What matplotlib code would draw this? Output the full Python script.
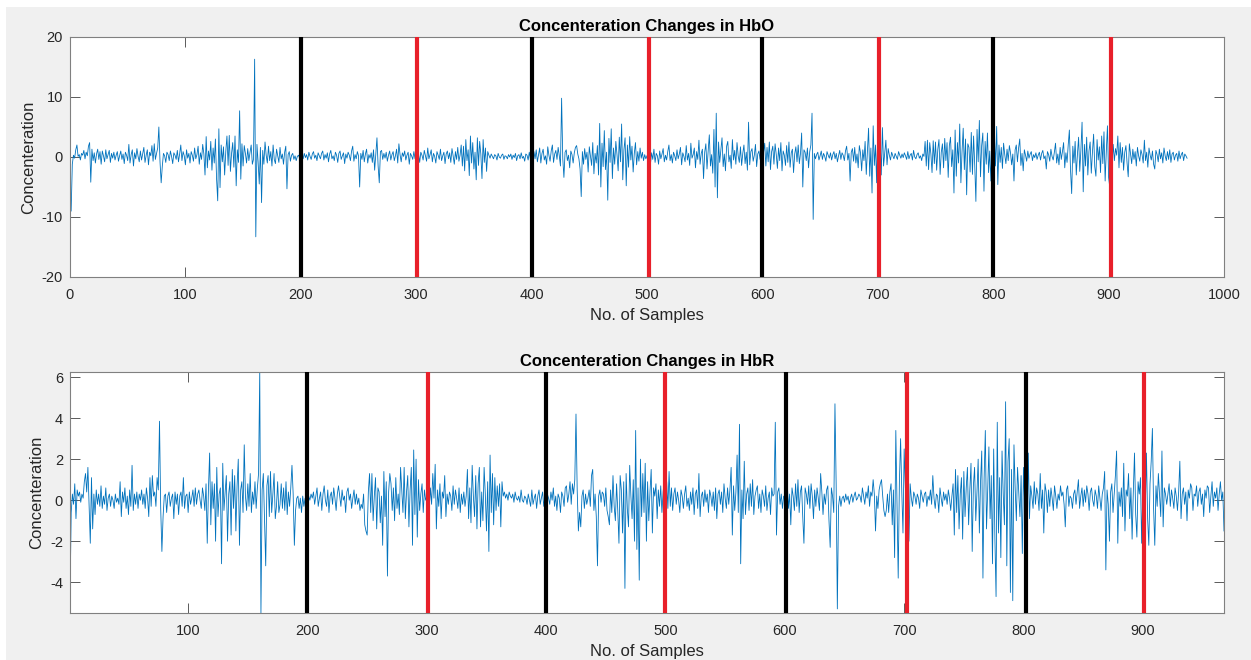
import matplotlib.pyplot as plt
from matplotlib.patches import Rectangle

plt.rcParams['font.family'] = ['Liberation Sans', 'DejaVu Sans']
plt.rcParams['axes.unicode_minus'] = False

# HbO concentration change, one value per sample
hbo = [
    -9.0, -1.2, 0.3, -0.2, 1.2, 2.0, 0.1, 0.4, -0.5, 0.6, 0.3, 1.1, -0.3, 0.8, 0.2, 1.8, 2.4, -4.2, 1.3, -0.6,
    0.7, -1.0, 0.5, 1.3, -0.4, 0.9, -1.2, 1.0, 0.2, -0.8, 1.2, -0.3, 0.4, 1.1, -0.9, 0.6, -0.2, 0.8, -0.5, 0.3,
    0.9, -0.7, 0.2, 1.0, -0.4, 0.5, -1.1, 0.8, 0.3, -0.6, 2.1, -1.0, 0.4, 1.2, -1.5, 0.7, -0.3, 1.4, 0.1, -0.8,
    1.0, -0.5, 0.6, 1.6, -0.9, 0.3, 1.2, -1.3, 0.8, 0.2, 1.9, -0.7, 2.2, -0.4, 0.6, 1.5, 5.0, -0.8, -4.3, -1.5,
    0.6, 0.2, -0.9, 0.8, 0.4, -0.6, 1.0, 0.1, -1.1, 0.7, 0.3, -0.4, 1.1, -0.8, 0.5, 2.0, -0.6, 0.9, 0.2, -1.3,
    1.2, -0.2, 0.6, -1.0, 0.9, 0.3, -0.7, 1.5, -0.3, 0.4, 1.8, -1.2, 0.7, -0.4, 2.1, 0.5, -3.0, 3.4, -1.8, 1.0,
    -0.5, 2.6, -2.2, 1.5, -1.0, 3.0, -3.6, -7.3, 4.7, -5.1, 2.0, -0.8, 1.7, -3.0, 0.9, 3.5, -1.4, 3.6, -2.4, 0.6,
    2.4, -1.7, 3.5, -4.8, 1.2, -0.9, 7.7, -3.7, 2.2, -1.5, 1.9, 0.6, -1.0, 1.4, -0.6, 0.8, 2.0, -1.2, -0.4, 16.3,
    -13.3, 2.1, -0.8, -4.5, 1.6, -7.6, 1.1, -1.2, 2.5, 0.3, -1.0, 1.8, -0.6, 0.9, -1.5, 2.0, -0.4, -1.1, 1.3, 0.2,
    -0.9, 1.6, -0.3, 0.5, -1.2, 0.8, 1.8, -5.3, 0.4, 0.9, -0.7, 0.3, 0.6, -0.4, 0.2, -0.6, 0.1, 0.3, -0.2, 0.4,
    0.2, -0.3, 0.6, -0.1, 0.4, -0.5, 0.8, 0.1, -0.4, 0.5, 0.9, -0.2, 0.3, -0.6, 0.7, 0.2, -0.3, 0.6, 1.0, -0.5,
    0.4, -0.2, 0.7, -0.8, 0.5, 1.1, -0.3, 0.2, -0.6, 0.8, 0.3, -0.9, 0.6, 1.0, -0.4, 0.2, 0.7, -1.1, 0.5, -0.2,
    0.8, 0.3, -0.6, 1.0, 1.8, -0.7, 0.4, -0.3, 0.9, 0.2, -5.0, 0.6, -0.4, 1.1, -0.8, 0.5, 1.3, -1.0, 0.4, -0.2,
    0.7, -0.9, 1.2, -2.2, 0.5, 3.2, -1.5, -4.3, 0.9, 1.1, -0.4, 0.6, -0.2, 0.8, -0.7, 0.3, 1.0, -0.5, 0.4, 0.9,
    -0.6, 0.2, 1.3, -1.0, 2.2, 0.4, -0.8, 0.7, 0.1, 1.0, -0.5, 0.3, 0.8, -1.2, 0.6, 0.2, -0.4, 0.9, -0.3, 0.5,
    -0.2, 0.6, -0.9, 0.8, 0.3, -0.5, 1.1, 0.2, -0.7, 1.5, -0.3, 0.4, 1.2, -0.8, 0.6, 0.1, -1.0, 0.9, 0.3, -0.4,
    1.3, -0.6, 0.2, 0.8, -1.1, 0.5, 1.0, -0.3, 0.7, -0.9, 1.4, 0.2, -1.2, 0.9, -0.4, 1.6, -0.7, 0.3, 2.0, -1.5,
    1.8, -2.3, 2.9, -0.6, 1.2, -3.1, 3.5, -1.0, 2.4, -2.0, 0.8, -3.8, 3.2, -1.4, 2.6, 0.5, -3.6, 2.9, -0.9, 1.5,
    -2.4, 0.9, 0.3, -0.2, 0.5, 0.1, -0.3, 0.4, 0.2, -0.5, 0.6, 0.0, -0.2, 0.3, 0.5, -0.4, 0.2, 0.1, -0.3, 0.4,
    0.0, 0.5, -0.4, 0.3, -0.1, 0.6, -0.6, 0.2, 0.4, -0.3, 0.7, -0.2, 0.1, -0.7, 0.5, 0.3, -0.5, 0.8, -0.4, 0.2,
    -0.6, 0.9, -0.3, 1.2, -0.8, 0.4, 1.5, -1.0, 0.6, 1.3, -0.5, 0.2, -1.2, 1.7, 0.3, -0.7, 1.0, 2.0, -0.9, 0.5,
    1.1, -0.4, 1.6, 0.2, -1.5, 9.8, -0.2, -3.4, 0.8, 1.2, -0.6, 0.3, -1.8, 1.0, 0.4, -1.0, 0.7, 1.6, 1.9, 0.5,
    -0.3, -2.0, -6.6, 0.9, -1.2, 1.4, -0.4, 0.8, -2.5, 1.7, 0.2, -1.4, 2.4, -2.8, 0.6, -1.0, 1.9, -3.0, 5.6, -5.0,
    2.3, -1.6, 4.4, -2.1, 0.8, -7.2, 3.1, -0.9, 4.7, -3.6, 1.5, -1.2, 2.6, 0.4, -2.3, 3.3, -0.8, 5.5, -3.8, 1.2,
    3.2, -4.8, 2.0, -1.7, 3.4, -0.5, 1.8, -2.5, 0.6, 2.4, -1.3, 0.9, -0.7, 1.5, -0.2, 0.8, -0.6, 0.4, -0.3, 0.2,
    0.5, 2.3, -1.1, 0.7, -0.4, 1.3, -0.9, 0.6, 0.2, -1.2, 1.0, -0.3, 0.5, 1.4, -0.8, 0.3, -0.5, 0.9, 2.0, -0.6,
    0.4, -1.0, 0.8, 0.2, -0.6, 1.2, -0.3, 0.5, 1.6, -1.3, 0.7, 0.1, -0.8, 1.9, -0.5, 0.6, -1.4, 2.3, -0.2, 0.4,
    1.5, -1.8, 0.9, -0.4, 2.8, -1.2, 0.6, 1.3, -3.6, 0.8, 2.2, -2.0, 1.0, 3.7, -1.5, 0.4, -2.7, 4.6, -5.0, 7.3,
    -6.8, 2.5, -0.9, 1.2, 3.2, -1.6, 0.5, -2.3, 1.8, 2.6, -0.8, 0.3, -1.9, 2.9, -0.5, 1.1, -1.2, 2.4, 0.2, -0.9,
    1.7, -1.4, 0.6, 2.0, -1.1, 0.8, -2.2, 5.8, -1.3, 0.9, 1.4, -0.7, 0.3, 2.1, -1.6, 0.5, 1.0, -0.4, 2.6, -0.3,
    0.8, 2.3, -1.5, 1.6, -0.8, 2.5, -2.1, 0.9, 1.8, -1.2, 2.2, 0.4, -1.9, 1.5, -0.6, 2.4, -2.3, 1.0, 0.3, -1.4,
    1.9, -0.9, 2.5, -1.7, 0.7, 1.3, -2.6, 0.5, 1.7, -0.8, 2.0, -1.1, 0.6, 4.0, -5.0, 1.2, 0.8, -0.6, 1.5, -1.8,
    0.9, 2.0, 7.3, -10.4, 0.6, -0.3, 0.4, 0.8, -0.5, 0.2, 1.0, -0.4, 0.6, 0.1, -0.7, 0.9, 0.3, -0.2, 0.7, -0.5,
    0.4, 0.9, -0.3, 0.6, -0.8, 0.2, 1.1, -0.4, 0.7, 0.3, -0.6, 1.0, 1.8, -0.5, 0.6, -4.0, 0.8, 1.4, -0.7, 1.6,
    -1.0, 0.5, -1.8, 1.9, 0.7, -2.3, 1.2, -0.6, 2.6, -2.9, 0.9, 4.8, -3.2, 1.5, -6.0, 5.2, -1.4, 2.0, -4.3, 5.2,
    -2.2, 3.4, -3.0, 4.9, -1.5, 0.7, 2.8, -1.3, 1.4, 0.3, -0.5, 0.8, 0.2, -0.3, 0.6, 0.1, -0.4, 0.9, 0.3, -0.2,
    0.5, -0.1, 0.7, 0.2, -0.4, 0.9, -0.3, 0.3, 0.6, -0.5, 1.1, 0.0, -0.3, 0.4, 0.7, -0.2, 0.2, -0.6, 0.5, 0.1,
    2.6, -1.5, 2.8, -2.1, 2.4, 0.5, -2.6, 2.7, -1.1, 2.5, -2.2, 1.3, 2.9, -2.9, 0.8, 2.2, -1.8, 3.1, -0.6, 2.4,
    -3.4, 1.9, 3.3, -1.6, 1.2, -6.0, 4.5, -3.2, 2.4, -1.0, 5.5, -4.3, 0.9, 4.8, -2.1, 3.0, -6.3, 2.2, 1.6, -2.5,
    4.1, -2.9, 3.5, -1.4, -7.4, 4.6, -0.8, 6.1, -3.3, 1.9, 4.0, -5.7, 2.6, -1.2, 4.0, -2.6, 1.0, -4.0, 2.3, -3.0,
    3.6, -1.5, 5.1, -4.6, 2.0, -0.9, 1.6, -1.9, 2.3, 0.4, -1.1, 1.3, -0.6, 1.9, 0.7, -1.3, 0.5, -4.0, 1.2, 2.0,
    -0.8, 1.5, 3.0, -1.4, 0.6, -2.3, 1.2, 0.3, -0.7, 1.0, -0.2, 0.5, 0.9, -0.6, 0.4, -0.1, 0.7, -0.4, 0.3, 0.8,
    -0.5, 0.6, 1.1, -0.3, 0.2, -2.0, 0.9, 0.4, -0.7, 1.3, 0.1, -0.5, 0.8, 2.3, -1.0, 0.5, -1.3, 1.6, -0.4, 0.9,
    2.4, -1.8, 0.7, -0.9, 2.0, 4.5, -2.2, -6.1, 1.8, -1.0, 2.6, -3.0, 0.5, 3.3, -2.4, 1.2, 5.8, -5.8, 2.1, -1.5,
    3.3, -3.0, 1.0, 2.5, -2.7, 0.8, 3.8, -1.6, -3.2, 2.9, -0.5, 1.7, -2.6, 3.5, -1.1, 4.2, -4.0, 0.9, 5.2, -3.4,
    -5.0, 4.6, -1.2, 2.1, -0.6, 1.4, 0.3, 3.5, -1.8, 2.4, -0.9, 1.6, -2.2, 0.8, 1.9, -1.0, -3.3, 2.2, 0.5, -1.1,
    1.3, -0.4, 0.9, -1.5, 1.6, 0.2, -0.7, 1.2, 0.4, -1.0, 2.8, -0.6, 0.8, -1.7, 1.5, 0.3, -0.5, 1.0, -1.2, -2.0,
    1.1, 0.4, -0.8, 1.3, -0.3, 0.7, -1.0, 1.5, 0.2, -0.6, 0.9, -0.4, 1.2, -0.9, 0.5, 0.8, -0.5, 0.3, 0.6, -0.7,
    1.0, -0.3, 0.4, 0.8, -0.6, 0.5, 0.2, -0.2,
]

# HbR concentration change, one value per sample
hbr = [
    -4.8, -0.6, 0.3, -0.2, 0.8, -0.9, 0.5, 0.2, 0.4, -0.1, 0.3, 0.1, 0.9, 1.3, 0.4, 1.6, -0.3, -2.1, 1.1, -1.4,
    0.3, -0.7, 0.5, -0.2, 0.3, -0.3, 0.7, -0.4, 0.2, -0.2, 0.6, -0.5, 0.1, 0.3, -0.3, 0.2, 0.0, -0.4, 0.3, -0.1,
    0.1, -0.2, 0.9, -0.8, 0.4, -0.1, 0.6, -0.4, 0.2, -0.7, 0.5, -0.3, 1.7, -0.5, 0.3, -0.2, 0.4, -0.4, 0.3, 0.0,
    0.5, -0.2, 0.3, -0.4, 0.6, 0.1, -0.8, 1.1, -0.3, 1.2, 0.2, 0.4, -0.3, 1.1, 0.5, 3.85, -0.4, -2.5, -0.8, 0.2,
    0.3, -0.6, 0.2, 0.4, -0.3, 0.1, 0.3, -0.9, 0.4, -0.2, 0.3, -0.7, 0.2, 0.4, -0.3, 1.1, -0.4, 0.2, 0.3, -0.6,
    0.4, -0.2, 0.1, 0.5, -0.3, 0.6, -0.2, 0.3, 0.5, 0.0, -0.4, 0.6, 0.2, -0.5, 0.8, -2.1, 0.5, 2.3, -1.2, 0.9,
    -0.4, 0.8, -2.0, 1.6, -0.8, 0.3, 0.6, -3.1, 1.8, -0.5, 0.4, 1.2, -2.0, 0.3, 0.9, -1.7, 1.5, -0.4, 1.2, -1.5,
    0.7, 2.0, -2.2, 0.5, 0.9, -0.6, 2.7, 0.2, -0.5, 0.8, -0.3, 1.3, -0.6, 0.4, -0.2, 0.9, -0.4, 0.6, 1.3, 6.25,
    -5.5, 0.5, 1.3, -0.9, -3.2, 0.7, 1.2, -0.8, 1.4, -0.6, 0.3, 1.3, -0.9, -0.3, 0.9, -0.6, -0.2, 0.8, -0.4, 0.6,
    -0.5, 0.9, -0.7, 0.4, -0.3, 0.6, 1.7, 0.3, -2.2, -0.5, 0.1, 0.2, -0.4, 0.1, -0.6, 0.2, -0.3, 0.1, -0.5, 0.0,
    0.2, 0.0, 0.3, 0.1, 0.4, -0.2, 0.2, 0.6, -0.3, 0.1, 0.4, -0.5, 0.3, 0.7, 0.0, -0.3, 0.5, -0.6, 0.2, 0.4,
    -0.2, 0.6, 0.1, -0.5, 0.3, 0.7, 0.2, -0.3, 0.5, 0.0, 0.2, -0.6, 0.4, 0.6, 0.0, 0.3, -0.4, 0.1, 0.5, -0.2,
    0.3, -0.2, 0.1, -0.5, -0.2, -0.4, 0.3, -1.2, -1.5, -1.7, 0.4, 1.3, -0.6, 1.3, -1.0, 0.2, 1.1, -1.4, 0.6, 0.4,
    -1.1, 0.2, -2.2, 1.4, -0.8, 0.9, -3.7, 0.4, 1.3, 0.8, -0.5, 0.6, -1.0, 1.1, -0.4, 0.3, -0.7, 1.6, 0.5, -0.6,
    1.6, -0.9, 0.4, 1.2, -1.3, 0.5, 1.6, -2.2, 2.45, -0.7, 2.0, -1.8, 1.0, -0.5, 0.3, 0.8, -0.6, 0.5, 0.0, 0.2,
    0.3, -0.4, 0.6, -0.2, 1.3, 0.1, 1.75, -1.4, 0.5, -0.3, 0.8, -0.9, 0.4, 0.1, 1.2, -0.8, 0.3, -0.2, 0.4, 0.2,
    -0.5, 0.7, -0.2, 0.5, 0.1, -0.4, 0.6, -0.6, 0.3, -0.2, 0.4, -0.3, 0.2, 1.5, -0.9, 0.6, -1.1, 1.7, 0.2, -0.8,
    1.2, -1.4, 0.8, 1.6, -1.3, 0.4, -1.0, 1.6, 0.3, -1.5, 0.9, -2.5, 2.2, -0.6, 1.3, -1.2, 1.1, -0.5, 0.7, -0.3,
    0.8, -1.3, 0.9, 0.2, 0.4, 0.1, 0.3, 0.0, 0.4, 0.2, 0.1, 0.3, -0.1, 0.4, 0.1, 0.0, 0.2, -0.1, 0.5, 0.0,
    -0.1, 0.2, 0.1, -0.2, 0.3, 0.0, -0.3, 0.5, -0.2, 0.1, 0.3, -0.4, 0.2, 0.5, -0.2, 0.1, 0.4, -0.3, 0.2, -0.4,
    0.3, 0.1, -0.2, 0.4, 0.0, 0.6, -0.3, 0.2, -0.5, 0.3, 0.1, -0.6, 0.4, 0.2, -0.3, 0.6, 0.7, -0.1, 0.3, 0.9,
    -0.2, 0.8, 0.3, 1.0, 4.2, 0.5, -1.5, -0.6, -1.3, 0.2, 0.5, -0.4, 0.3, -0.2, 0.1, 0.5, -0.3, 1.2, 1.5, -0.5,
    0.3, -0.8, -3.2, 0.2, 0.5, -0.1, 0.4, 0.3, -0.3, 0.6, -0.5, -0.8, -1.2, 0.5, -0.6, 1.2, -0.3, -1.0, 0.8, -0.5,
    -2.1, 1.2, 0.5, -1.6, 0.9, -4.3, 1.3, -0.4, -1.3, 1.7, 0.2, -0.9, 1.0, -2.0, 3.4, -2.4, 0.6, -3.9, 2.0, -0.8,
    1.3, -0.6, 1.8, -2.0, 0.9, -1.0, 0.4, 1.5, -1.6, 0.6, 0.2, 0.8, -0.9, 0.5, -0.3, 0.7, -0.6, 0.4, 1.0, -0.7,
    0.9, -0.4, 1.4, -0.3, 0.6, -0.5, 0.3, 0.6, -0.2, 0.4, 0.0, -0.6, 0.5, 0.2, -0.4, 0.3, 0.7, -0.3, 0.1, -0.5,
    0.4, -0.2, 0.6, -0.7, 0.3, 0.5, -0.4, 1.3, -0.8, 0.2, 0.4, -0.3, 0.5, -0.1, 0.3, -0.6, 0.5, 0.2, -0.3, 0.4,
    -0.5, 0.6, -0.9, 0.3, 0.5, -0.2, 0.4, -0.6, 0.8, 0.1, -0.4, 0.6, -0.2, 0.5, 1.6, -1.7, 0.7, -0.5, 0.4, 2.2,
    -0.6, 3.7, -3.1, 0.5, -0.9, 1.9, -0.7, 0.3, 0.6, -0.5, 0.8, -0.3, 1.0, -0.7, 0.2, 0.5, 0.7, -0.4, 0.3, -0.6,
    0.5, 0.2, -0.3, 0.7, -0.5, 0.1, 0.4, -0.7, 0.6, 0.2, 0.3, 3.8, -1.7, 0.4, 0.6, -0.2, 0.3, -0.4, 0.2, 0.1,
    0.5, 0.9, -0.4, 0.3, -1.2, 0.6, 0.2, -0.5, 0.8, -0.3, 1.0, -0.6, 0.4, 0.7, -0.8, -2.1, 0.6, 0.3, -0.2, 0.7,
    -0.4, 0.8, 0.2, -0.9, 0.5, -0.3, 0.6, 0.1, -0.5, 1.3, 0.4, -0.7, 0.3, -0.2, 0.5, 0.7, -1.0, -2.3, 0.6, 0.2,
    -0.6, 4.7, 0.8, -5.3, -0.3, 0.2, -0.3, 0.1, 0.2, -0.1, 0.3, 0.0, 0.2, -0.2, 0.1, 0.3, -0.1, 0.2, 0.4, 0.0,
    0.1, 0.3, 0.2, -0.1, 0.6, 0.2, -0.2, 0.4, 0.1, 0.7, -0.3, 0.4, 0.2, 1.0, 0.3, -1.5, 0.2, -0.4, 0.5, 0.8,
    1.0, 0.2, -0.5, -0.8, -0.5, 0.3, -0.6, 0.4, 0.8, -1.2, 0.5, -2.8, 3.4, -0.3, -3.8, 0.9, 3.0, 0.4, -1.6, 2.5,
    0.6, -0.2, 2.3, -2.0, 0.8, 0.1, -0.3, 0.4, 0.2, -0.2, 0.3, 0.1, -0.4, 0.5, 0.2, -0.1, 0.3, 0.4, -0.3, 0.2,
    0.0, 0.5, -0.2, 1.2, 0.1, -0.4, 0.3, 0.2, -0.6, 0.6, 0.1, -0.3, 0.4, 0.0, 0.3, -0.2, 0.5, 0.1, -0.5, 0.2,
    0.8, -1.7, 1.5, -0.6, 1.2, -1.4, 0.3, 1.1, -1.9, 1.4, -0.8, 0.6, 1.6, -1.2, 0.5, 1.8, -2.5, 0.7, 1.6, -1.0,
    0.4, 2.0, -1.6, 0.9, 2.4, -3.8, 1.1, 3.4, -1.4, 0.5, 2.6, -0.9, 1.2, -3.1, 2.5, -1.8, -4.7, 3.8, -1.6, 1.1,
    -2.8, 2.4, 0.3, -1.2, 4.8, -3.2, 1.9, 3.0, -4.5, 1.5, -4.9, 2.7, 0.6, -1.0, 1.6, 0.4, -0.8, 1.2, -2.6, 1.6,
    -0.3, 0.6, -1.6, 2.3, -0.9, 0.7, 0.2, -0.4, 0.9, -0.2, 0.6, 0.3, -0.5, 1.3, -0.4, 0.5, -1.6, 0.8, 0.4, -0.6,
    0.5, -0.3, 0.6, 0.1, -0.5, 0.7, 0.2, -0.4, 0.3, 0.0, 0.7, 0.2, 0.4, -0.2, -1.3, 0.5, 0.7, -0.3, 0.2, 0.1,
    -0.4, 0.3, 0.5, -0.2, 0.4, 1.0, -0.4, 0.2, 0.6, -0.3, 0.5, -0.1, 0.7, 0.3, -0.5, 0.4, 0.6, 0.0, -0.3, 0.5,
    0.2, -0.4, 0.7, 0.1, -0.5, 0.3, 0.6, 1.4, -3.4, 0.5, -0.2, -2.0, 0.4, 0.8, -0.6, 0.3, 1.2, 2.4, -2.1, 0.4,
    -0.3, 0.6, -0.8, 1.8, -1.5, 0.5, 0.2, 1.3, -0.9, 0.6, -1.9, 0.4, 2.3, -0.7, -1.8, 0.9, 0.3, 1.1, -2.1, 0.5,
    1.2, -0.6, 2.3, -0.9, -2.2, 0.8, 1.9, 3.5, -0.4, -2.2, 0.7, -0.3, 1.3, 0.2, -0.8, 2.4, -1.3, 0.6, 0.3, -0.2,
    0.3, 0.8, -0.3, 0.5, 0.1, -0.4, 0.6, 0.2, -0.5, 0.4, 1.9, -0.9, 0.3, 0.6, -0.2, 0.4, -1.0, 0.5, 0.1, 0.8,
    0.6, -0.5, 0.3, 0.2, 0.7, -0.3, 0.4, 0.6, -0.2, 0.3, -0.8, 0.5, 0.1, 0.7, 0.6, -0.6, 0.2, 0.9, -0.3, 0.4,
    0.1, 0.6, -0.5, 0.3, 0.9, 0.0, 0.4, -1.5,
]

# stimulus markers (sample index) and their colours
hbo_marks = [200, 301, 400, 502, 600, 701, 800, 902]
hbr_marks = [200, 301, 400, 500, 601, 702, 802, 901]
mark_colors = ['black', '#e8202a', 'black', '#e8202a', 'black', '#e8202a', 'black', '#e8202a']

titles = ['Concenteration Changes in HbO', 'Concenteration Changes in HbR']

TXT = '#262626'
LINE = '#0072bd'


def style_axis(ax):
    ax.tick_params(direction='in', length=7.5, width=0.6, colors='#404040',
                   labelcolor=TXT, labelsize=10.5, top=True, right=True)
    ax.tick_params(axis='x', pad=8)
    ax.tick_params(axis='y', pad=5)
    for sp in ax.spines.values():
        sp.set_color('#808080')
        sp.set_linewidth(0.8)
    ax.set_xlabel('No. of Samples', fontsize=12, color=TXT, labelpad=4)
    ax.set_ylabel('Concenteration', fontsize=12, color=TXT, labelpad=4)


def main():
    fig = plt.figure(figsize=(12.51, 6.6), dpi=100, facecolor='white')
    fig.add_artist(Rectangle((6 / 1251, -0.05), 1.1, 653 / 660 + 0.05, transform=fig.transFigure,
                             facecolor='#f0f0f0', edgecolor='none', zorder=-10))

    ax1 = fig.add_axes([70 / 1251, 383 / 660, 1154 / 1251, 240 / 660])
    ax2 = fig.add_axes([70 / 1251, 47 / 660, 1154 / 1251, 241 / 660])

    # HbO
    x1 = list(range(1, len(hbo) + 1))
    ax1.plot(x1, hbo, color=LINE, lw=0.6, zorder=2)
    for m, c in zip(hbo_marks, mark_colors):
        ax1.plot([m, m], [-20, 20], color=c, lw=3, zorder=3, solid_capstyle='butt')
    ax1.set_xlim(0, 1000)
    ax1.set_ylim(-20, 20)
    ax1.set_xticks(range(0, 1001, 100))
    ax1.set_yticks(range(-20, 21, 10))

    # HbR
    x2 = list(range(1, len(hbr) + 1))
    ax2.plot(x2, hbr, color=LINE, lw=0.6, zorder=2)
    lo, hi = min(hbr), max(hbr)
    for m, c in zip(hbr_marks, mark_colors):
        ax2.plot([m, m], [lo, hi], color=c, lw=3, zorder=3, solid_capstyle='butt')
    ax2.set_xlim(1, len(hbr))
    ax2.set_ylim(lo, hi)
    ax2.set_xticks(range(100, 901, 100))
    ax2.set_yticks(range(-4, 7, 2))

    for ax, t in zip([ax1, ax2], titles):
        style_axis(ax)
        ax.set_title(t, fontsize=12, fontweight='bold', color='black', pad=4)

    fig.savefig('out.png', dpi=100, facecolor=fig.get_facecolor())


if __name__ == '__main__':
    main()
